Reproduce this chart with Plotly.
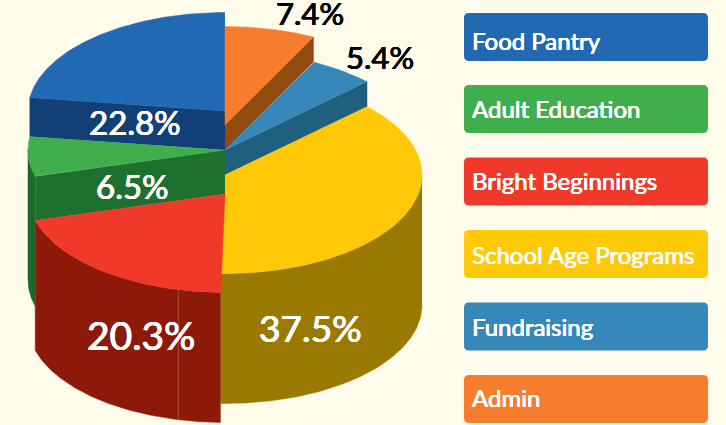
import numpy as np
import plotly.graph_objects as go

# data, clockwise from 12 o'clock
categories = ["Admin", "Fundraising", "School Age Programs", "Bright Beginnings", "Adult Education", "Food Pantry"]
values = [7.4, 5.4, 37.5, 20.3, 6.5, 22.8]
legend_order = ["Food Pantry", "Adult Education", "Bright Beginnings", "School Age Programs", "Fundraising", "Admin"]

# style
top_colors = ["#F77C2B", "#3687BA", "#FFC907", "#F1392A", "#41AE4D", "#2269B3"]
face_colors = ["#924A0F", "#20607F", "#997900", "#8D1A09", "#1E702F", "#113F76"]
rim_colors = ["#924A0F", "#20607F", "#997900", "#8D1A09", "#1B6A2C", "#113F76"]
bg = "#FFFCEB"

# geometry of the stepped pie
CX, RX, RY = 225, 197, 98.5
center_y = [125, 150, 175, 194, 150, 111]
face_h = [25, 25, 0, 0, 44, 39]
rim_h = [0, 0, 130, 130, 130, 0]
draw_order = [5, 0, 1, 2, 4, 3]
label_pos = [(310, 13, 31, "black"), (380, 57, 31, "black"), (310, 327, 37, "white"),
             (141, 335, 39, "white"), (132, 186, 33, "white"), (135, 122, 33, "white")]
legend_tops = [13, 85, 157.5, 230, 302.5, 375]
legend_text_y = [40, 108, 180.5, 254, 326, 397]
SEAM_SLICE, SEAM_DEG = 3, 193.7


def stroke(c, w):
    return f"{w}px 0 0 {c}, -{w}px 0 0 {c}, 0 {w}px 0 {c}, 0 -{w}px 0 {c}"


total = sum(values)
edges = np.concatenate([[0], np.cumsum(values)]) / total * 2 * np.pi


def pt(t, cy):
    return CX + RX * np.sin(t), cy - RY * np.cos(t)


fig = go.Figure()


def poly(xs, ys, color):
    fig.add_trace(go.Scatter(x=list(xs), y=list(ys), mode="lines", fill="toself", fillcolor=color,
                             line=dict(color=color, width=0.5), hoverinfo="skip", showlegend=False))


for i in draw_order:
    t0, t1 = edges[i], edges[i + 1]
    cy = center_y[i]
    # visible radial face: trailing edge on the right half, leading edge on the left half
    edge_t = t1 if t1 < np.pi else t0
    ex, ey = pt(edge_t, cy)
    if face_h[i]:
        poly([CX, ex, ex, CX], [cy, ey, ey + face_h[i], cy + face_h[i]], face_colors[i])
    # outer rim (only the front half of the ellipse)
    if rim_h[i]:
        a = max(t0, np.pi / 2)
        b = min(t1, 3 * np.pi / 2)
        ts = np.linspace(a, b, 120)
        x, y = pt(ts, cy)
        poly(np.r_[x, x[::-1]], np.r_[y, (y + rim_h[i])[::-1]], rim_colors[i])
        if i == SEAM_SLICE:
            sx, sy = pt(np.radians(SEAM_DEG), cy)
            fig.add_trace(go.Scatter(x=[sx, sx], y=[sy, sy + rim_h[i]], mode="lines",
                                     line=dict(color="rgba(255,255,255,0.22)", width=1),
                                     hoverinfo="skip", showlegend=False))
    # top
    ts = np.linspace(t0, t1, 160)
    x, y = pt(ts, cy)
    poly(np.r_[CX, x], np.r_[cy, y], top_colors[i])

for i, (lx, ly, size, col) in enumerate(label_pos):
    fig.add_annotation(x=lx, y=ly, text=f"{values[i]}%", showarrow=False, xanchor="center", yanchor="middle",
                       font=dict(family="Lato", size=size, color=col, shadow=stroke(col, 0.4)))

# legend
shapes = []
LX0, LX1, R = 464, 708, 5
for name, y0, ty in zip(legend_order, legend_tops, legend_text_y):
    y1 = y0 + 48
    col = top_colors[categories.index(name)]
    p = (f"M {LX0+R} {y0} L {LX1-R} {y0} Q {LX1} {y0} {LX1} {y0+R} L {LX1} {y1-R} Q {LX1} {y1} {LX1-R} {y1} "
         f"L {LX0+R} {y1} Q {LX0} {y1} {LX0} {y1-R} L {LX0} {y0+R} Q {LX0} {y0} {LX0+R} {y0} Z")
    shapes.append(dict(type="path", path=p, xref="x", yref="y", fillcolor=col, line=dict(width=0), layer="below"))
    fig.add_annotation(x=470, y=ty, text=name, showarrow=False, xanchor="left", yanchor="middle",
                       font=dict(family="Lato", size=24, color="white", shadow=stroke("white", 0.25)))

fig.update_layout(width=726, height=425, margin=dict(l=0, r=0, t=0, b=0), paper_bgcolor=bg, plot_bgcolor=bg,
                  shapes=shapes, showlegend=False,
                  xaxis=dict(range=[0, 726], visible=False, fixedrange=True),
                  yaxis=dict(range=[425, 0], visible=False, fixedrange=True))
fig.write_html("out.html", config={"displayModeBar": False},
               post_script=f"document.body.style.margin='0';document.body.style.background='{bg}';"
                           "document.documentElement.style.overflow='hidden';")
